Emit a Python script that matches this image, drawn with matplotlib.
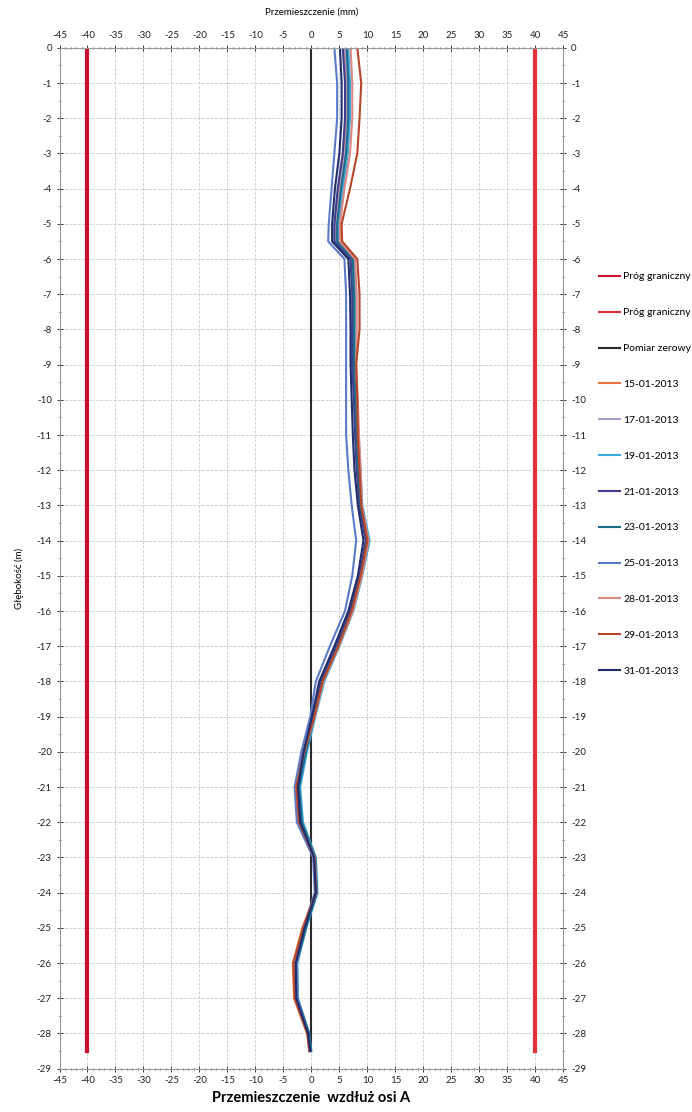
import numpy as np
import matplotlib.pyplot as plt
from matplotlib.ticker import MultipleLocator

plt.rcParams['font.family'] = ['Lato', 'DejaVu Sans']
plt.rcParams['axes.unicode_minus'] = False

depth = [0, -1, -2, -3, -4, -5, -5.5, -6, -7, -8, -9, -10, -11, -12, -13, -14,
         -15, -16, -17, -18, -19, -20, -21, -22, -23, -24, -25, -26, -27, -28, -28.5]

limit_depth = [0, -28.5]
limit_left = [-40, -40]
limit_right = [40, 40]
zero_line = [0, 0]

d_15_01 = [5.8, 6.2, 6.2, 5.8, 4.9, 4.3, 4.3, 7.1, 7.4, 7.4, 7.4, 7.7, 7.9, 8.2, 8.6, 9.8,
           8.6, 7.0, 4.5, 1.8, 0.4, -1.5, -2.8, -2.3, 0.5, 0.8, -1.6, -3.3, -3.1, -0.8, -0.3]
d_17_01 = [6.0, 6.4, 6.4, 6.0, 5.1, 4.4, 4.4, 7.2, 7.5, 7.5, 7.5, 7.8, 8.0, 8.3, 8.7, 9.9,
           8.7, 7.1, 4.6, 1.9, 0.4, -1.4, -2.6, -2.1, 0.6, 0.9, -1.3, -3.0, -2.9, -0.6, -0.2]
d_19_01 = [6.6, 6.9, 6.9, 6.5, 5.6, 4.9, 4.9, 7.6, 7.9, 7.9, 7.9, 8.2, 8.4, 8.8, 9.1, 10.4,
           9.1, 7.5, 5.0, 2.3, 0.7, -0.8, -2.0, -1.5, 0.8, 1.1, -0.9, -2.5, -2.4, -0.4, 0.0]
d_21_01 = [5.6, 6.0, 6.0, 5.6, 4.7, 4.1, 4.1, 7.0, 7.3, 7.3, 7.3, 7.6, 7.8, 8.1, 8.6, 9.7,
           8.6, 6.9, 4.4, 1.7, 0.3, -1.2, -2.3, -1.9, 0.6, 0.9, -1.1, -2.7, -2.6, -0.5, -0.1]
d_23_01 = [6.3, 6.6, 6.6, 6.2, 5.3, 4.6, 4.6, 7.4, 7.6, 7.6, 7.6, 7.9, 8.1, 8.4, 8.8, 10.0,
           8.8, 7.2, 4.7, 2.0, 0.5, -1.0, -2.2, -1.7, 0.7, 1.0, -1.0, -2.6, -2.5, -0.4, -0.1]
d_25_01 = [4.1, 4.6, 4.6, 4.1, 3.6, 3.1, 3.0, 5.9, 6.2, 6.2, 6.2, 6.2, 6.2, 6.6, 7.2, 8.0,
           7.3, 6.0, 3.3, 0.8, -0.2, -1.8, -3.0, -2.6, 0.3, 0.6, -1.4, -2.6, -2.5, -0.6, -0.4]
d_28_01 = [7.0, 7.3, 7.3, 6.9, 5.9, 5.1, 5.1, 7.8, 8.1, 8.1, 8.0, 8.3, 8.5, 8.8, 9.0, 10.2,
           9.0, 7.4, 4.9, 2.1, 0.6, -1.3, -2.7, -2.2, 0.6, 0.9, -1.5, -3.1, -3.0, -0.7, -0.3]
d_29_01 = [8.2, 8.9, 8.6, 8.2, 6.9, 5.4, 5.5, 8.2, 8.6, 8.6, 8.0, 8.2, 8.3, 8.6, 8.9, 10.0,
           8.8, 7.2, 4.8, 2.0, 0.5, -1.3, -2.7, -2.2, 0.5, 0.8, -1.5, -3.2, -3.0, -0.7, -0.4]
d_31_01 = [5.1, 5.4, 5.4, 5.0, 4.2, 3.7, 3.7, 6.6, 6.9, 7.0, 7.0, 7.2, 7.4, 7.7, 8.3, 9.3,
           8.3, 6.6, 4.1, 1.4, 0.1, -1.4, -2.4, -2.0, 0.5, 0.8, -1.2, -2.8, -2.7, -0.6, -0.2]

series = [
    ('15-01-2013', d_15_01, '#e8743b'),
    ('17-01-2013', d_17_01, '#a99bc9'),
    ('19-01-2013', d_19_01, '#3fa9dc'),
    ('21-01-2013', d_21_01, '#3d3f8c'),
    ('23-01-2013', d_23_01, '#1e6a8a'),
    ('25-01-2013', d_25_01, '#5b7bc8'),
    ('28-01-2013', d_28_01, '#d98a84'),
    ('29-01-2013', d_29_01, '#b5462a'),
    ('31-01-2013', d_31_01, '#1f2d6b'),
]

fig = plt.figure(figsize=(6.92, 11.12), dpi=100)
ax = fig.add_axes([0.086, 0.039, 0.728, 0.918])

ax.plot(limit_left, limit_depth, color='#c8102e', lw=3, label='Próg graniczny')
ax.plot(limit_right, limit_depth, color='#e0303a', lw=3, label='Próg graniczny')
ax.plot(zero_line, limit_depth, color='#2b2b2b', lw=1.5, label='Pomiar zerowy')
for name, vals, col in series:
    ax.plot(vals, depth, color=col, lw=1.5, label=name)

ax.set_xlim(-45, 45)
ax.set_ylim(-29, 0)
ax.xaxis.set_major_locator(MultipleLocator(5))
ax.xaxis.set_minor_locator(MultipleLocator(1))
ax.yaxis.set_major_locator(MultipleLocator(1))
ax.yaxis.set_minor_locator(MultipleLocator(0.5))
ax.grid(True, which='major', color='#cccccc', ls='--', lw=0.6)
ax.tick_params(which='both', top=True, right=True, labeltop=True, labelright=True,
               labelsize=7, colors='#222222', direction='inout')
ax.tick_params(which='major', length=4, width=0.6)
ax.tick_params(which='minor', length=2, width=0.5)
for s in ax.spines.values():
    s.set_color('#999999')
    s.set_linewidth(0.8)

ax.set_xlabel('Przemieszczenie  wzdłuż osi A', fontsize=10.5, fontweight='bold', labelpad=4)
fig.text(0.451, 0.989, 'Przemieszczenie (mm)', fontsize=7, ha='center', va='center')
ax.set_ylabel('Głębokość (m)', fontsize=7, labelpad=6)
ax.yaxis.set_label_coords(-0.07, 0.48)

leg = fig.legend(loc='upper left', bbox_to_anchor=(0.86, 0.759), frameon=False,
                 fontsize=7.5, labelspacing=2.55, handlelength=2.0, handletextpad=0.3,
                 borderaxespad=0)
for h in leg.get_lines():
    h.set_linewidth(1.5)

plt.savefig('out.png', dpi=100)
